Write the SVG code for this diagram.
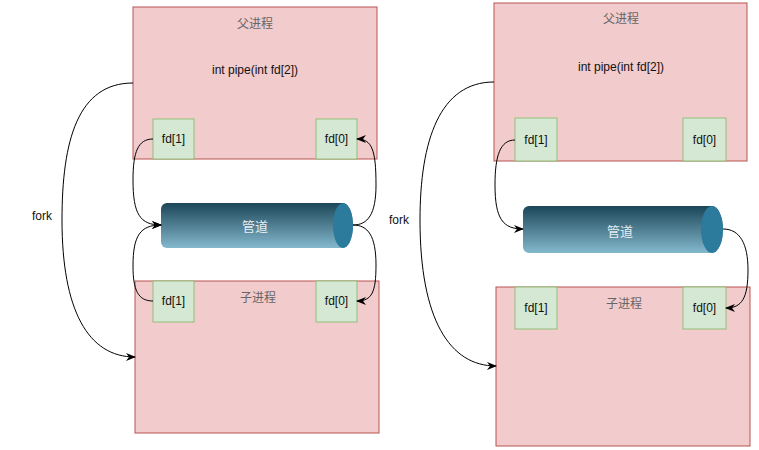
<svg xmlns="http://www.w3.org/2000/svg" width="759" height="450" viewBox="0 0 759 450">
<defs>
<linearGradient id="pipeGrad" x1="0" y1="0" x2="0" y2="1">
<stop offset="0" stop-color="#1c4658"/>
<stop offset="1" stop-color="#84b8cd"/>
</linearGradient>
<marker id="arr" viewBox="0 0 10 8" refX="9" refY="4" markerWidth="10" markerHeight="8" markerUnits="userSpaceOnUse" orient="auto">
<path d="M0,0 L10,4 L0,8 L3,4 z" fill="#000"/>
</marker>
<style>
.proc{fill:#f2cbcc;stroke:#b85450;stroke-width:1}
.fd{fill:#d5e8d4;stroke:#8fbf78;stroke-width:1}
.t{font-family:"Liberation Sans",Arial,sans-serif;font-size:12px;fill:#111;text-anchor:middle;dominant-baseline:central}
.cn{font-family:"Noto Sans CJK SC",sans-serif;font-size:12px;fill:#666;text-anchor:middle;dominant-baseline:central}
.pt{font-family:"Noto Sans CJK SC",sans-serif;font-size:13px;fill:#e6eef2;text-anchor:middle;dominant-baseline:central}
.pipe{fill:url(#pipeGrad)}
.cap{fill:#2c7b9c}
.edge{fill:none;stroke:#000;stroke-width:1}
</style>
</defs>
<rect width="759" height="450" fill="#fff"/>

<!-- Left diagram -->
<g id="parent-left">
<rect class="proc" x="133" y="7" width="244" height="152"/>
<text class="cn" x="255" y="22">父进程</text>
<text class="t" x="255" y="70">int pipe(int fd[2])</text>
</g>
<g id="parent-left-fd1">
<rect class="fd" x="153" y="119" width="41" height="40"/>
<text class="t" x="173.5" y="139">fd[1]</text>
</g>
<g id="parent-left-fd0">
<rect class="fd" x="316" y="119" width="41" height="40"/>
<text class="t" x="336.5" y="139">fd[0]</text>
</g>
<g id="pipe-left">
<path class="pipe" d="M167,203 L343,203 A10,22.5 0 0 1 343,248 L167,248 A6,6 0 0 1 161,242 L161,209 A6,6 0 0 1 167,203 z"/>
<ellipse class="cap" cx="343" cy="225.5" rx="10" ry="22.5"/>
<text class="pt" x="255" y="225">管道</text>
</g>
<g id="child-left">
<rect class="proc" x="135" y="281" width="244" height="152"/>
<text class="cn" x="258" y="296">子进程</text>
</g>
<g id="child-left-fd1">
<rect class="fd" x="153" y="281" width="41" height="41"/>
<text class="t" x="173.5" y="301">fd[1]</text>
</g>
<g id="child-left-fd0">
<rect class="fd" x="316" y="281" width="41" height="41"/>
<text class="t" x="336.5" y="301">fd[0]</text>
</g>
<g id="fork-left-label">
<text class="t" x="42" y="216">fork</text>
</g>

<!-- Right diagram -->
<g id="parent-right">
<rect class="proc" x="494" y="3" width="253" height="158"/>
<text class="cn" x="621" y="17">父进程</text>
<text class="t" x="621" y="67">int pipe(int fd[2])</text>
</g>
<g id="parent-right-fd1">
<rect class="fd" x="515" y="118" width="42" height="43"/>
<text class="t" x="536" y="140">fd[1]</text>
</g>
<g id="parent-right-fd0">
<rect class="fd" x="683" y="118" width="43" height="43"/>
<text class="t" x="704.5" y="140">fd[0]</text>
</g>
<g id="pipe-right">
<path class="pipe" d="M529,206 L712,206 A11,23.5 0 0 1 712,253 L529,253 A6,6 0 0 1 523,247 L523,212 A6,6 0 0 1 529,206 z"/>
<ellipse class="cap" cx="712" cy="229.5" rx="11" ry="23.5"/>
<text class="pt" x="620" y="230">管道</text>
</g>
<g id="child-right">
<rect class="proc" x="496" y="287" width="254" height="159"/>
<text class="cn" x="624" y="302">子进程</text>
</g>
<g id="child-right-fd1">
<rect class="fd" x="515" y="287" width="42" height="42"/>
<text class="t" x="536" y="308">fd[1]</text>
</g>
<g id="child-right-fd0">
<rect class="fd" x="683" y="287" width="43" height="42"/>
<text class="t" x="704.5" y="308">fd[0]</text>
</g>
<g id="fork-right-label">
<text class="t" x="399" y="220">fork</text>
</g>

<g id="connectors">
<path class="edge" marker-end="url(#arr)" d="M133,83 C78,83 62,140 62,220 C62,310 88,357 135,357"/>
<path class="edge" marker-end="url(#arr)" d="M153,139 C138,139 133,152 133,180 C133,214 140,225 161,225"/>
<path class="edge" marker-end="url(#arr)" d="M153,301 C138,301 133,290 133,266 C133,236 140,225 161,225"/>
<path class="edge" marker-end="url(#arr)" d="M353,225 C368,225 376,214 376,185 C376,150 372,139 357,139"/>
<path class="edge" marker-end="url(#arr)" d="M353,225 C368,225 376,236 376,265 C376,292 372,301 357,301"/>
<path class="edge" marker-end="url(#arr)" d="M494,82 C440,82 420,140 420,220 C420,320 450,366 496,366"/>
<path class="edge" marker-end="url(#arr)" d="M515,140 C500,140 495,156 495,185 C495,219 503,229 523,229"/>
<path class="edge" marker-end="url(#arr)" d="M723,229 C740,229 748,244 748,270 C748,298 742,308 726,308"/>
</g>
</svg>
